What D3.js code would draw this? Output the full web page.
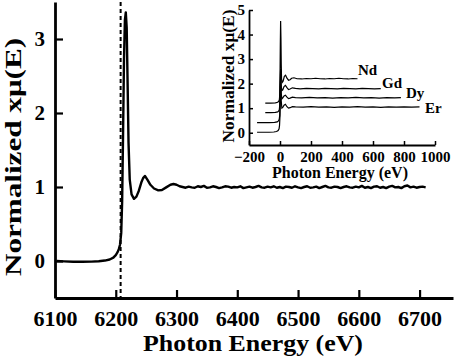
<!DOCTYPE html>
<html>
<head>
<meta charset="utf-8">
<script src="https://cdn.jsdelivr.net/npm/d3@7"></script>
<style>
  body { margin: 0; background: #fff; }
  svg { display: block; font-family: "Liberation Serif", "Times New Roman", serif; font-weight: bold; }
  .axis path, .axis line { stroke: #000; }
  .axis text { fill: #000; font-family: "Liberation Serif", serif; font-weight: bold; }
</style>
</head>
<body>
<div id="chart"></div>
<script>
// main spectrum (Nd L3 edge)
var mainEnergy = [6103, 6115, 6130, 6145, 6160, 6172, 6182, 6190, 6196, 6200, 6203, 6205, 6207, 6209, 6210.5, 6212, 6213.5, 6215, 6216.5, 6218, 6219.5, 6221, 6223, 6226, 6230, 6234, 6238, 6242, 6245, 6248, 6252, 6257, 6263, 6270, 6276, 6283, 6290, 6295, 6300, 6305,
  6310, 6315, 6320, 6325, 6330, 6335, 6340, 6345, 6350, 6355, 6360, 6365, 6370, 6375, 6380, 6385, 6390, 6395, 6400, 6405,
  6410, 6415, 6420, 6425, 6430, 6435, 6440, 6445, 6450, 6455, 6460, 6465, 6470, 6475, 6480, 6485, 6490, 6495, 6500, 6505,
  6510, 6515, 6520, 6525, 6530, 6535, 6540, 6545, 6550, 6555, 6560, 6565, 6570, 6575, 6580, 6585, 6590, 6595, 6600, 6605,
  6610, 6615, 6620, 6625, 6630, 6635, 6640, 6645, 6650, 6655, 6660, 6665, 6670, 6675, 6680, 6685, 6690, 6695, 6700, 6705, 6710];
var mainMu = [0.0, -0.005, -0.01, -0.01, -0.008, -0.004, 0.006, 0.02, 0.045, 0.08, 0.12, 0.16, 0.22, 0.38, 0.8, 1.7, 2.7, 3.25, 3.36, 3.15, 2.4, 1.6, 1.1, 0.9, 0.84, 0.87, 0.95, 1.06, 1.12, 1.15, 1.1, 1.03, 0.98, 0.955, 0.96, 0.995, 1.03, 1.04, 1.03, 1.01,
  1.0, 0.99, 1.005, 0.995, 0.99, 1.01, 1.0, 1.015, 0.99, 0.995, 1.01, 1.0, 0.985, 0.995, 1.01, 1.005, 0.99, 1.0, 0.995, 1.01,
  0.985, 0.995, 1.005, 0.99, 1.0, 1.015, 0.995, 0.99, 1.005, 0.995, 1.01, 0.99, 1.0, 0.985, 1.005, 1.0, 0.99, 1.01, 0.995, 0.985,
  1.0, 1.01, 0.99, 0.995, 1.005, 0.985, 1.0, 1.015, 0.995, 0.99, 1.005, 1.0, 0.985, 1.0, 1.01, 0.995, 0.99, 1.005, 0.995, 1.015,
  0.99, 1.0, 0.985, 1.005, 1.01, 0.99, 1.0, 0.985, 1.005, 1.015, 0.995, 1.0, 0.985, 1.01, 1.02, 0.995, 1.005, 0.99, 1.0, 1.005, 0.995];
var edgeEnergy = 6208;
var mainXTicks = [6100, 6200, 6300, 6400, 6500, 6600, 6700];
var mainYTicks = [0, 1, 2, 3];

// inset: spectra of the four elements, shifted by 0.4 each
var insetNames = ["Nd", "Gd", "Dy", "Er"];
var ndE = [-95, -60, -30, -15, -8, -4, -2, 0, 2, 4, 6, 8, 10, 14, 20, 28, 36, 45, 55, 65, 75, 90, 110, 140, 170, 200, 230, 260, 290, 320, 350, 380, 410, 440, 470, 500];
var ndMu = [1.21, 1.21, 1.22, 1.24, 1.28, 1.35, 1.5, 2.2, 3.6, 4.55, 3.9, 2.8, 2.2, 2.05, 2.1, 2.3, 2.34, 2.22, 2.14, 2.16, 2.22, 2.24, 2.2, 2.19, 2.21, 2.2, 2.22, 2.2, 2.19, 2.21, 2.2, 2.22, 2.2, 2.19, 2.21, 2.2];
var gdE = [-95, -60, -30, -15, -8, -4, -2, 0, 2, 4, 6, 8, 12, 18, 26, 35, 45, 55, 65, 80, 100, 130, 170, 210, 250, 290, 330, 370, 410, 450, 490, 530, 570, 610, 650];
var gdMu = [0.82, 0.82, 0.83, 0.85, 0.89, 0.96, 1.1, 1.6, 2.3, 2.6, 2.3, 1.9, 1.72, 1.75, 1.88, 1.93, 1.84, 1.76, 1.78, 1.83, 1.81, 1.79, 1.81, 1.8, 1.79, 1.81, 1.8, 1.79, 1.81, 1.8, 1.79, 1.81, 1.8, 1.79, 1.8];
var dyE = [-148, -110, -70, -35, -18, -10, -5, -2, 0, 2, 4, 6, 8, 12, 18, 26, 35, 45, 55, 65, 80, 100, 140, 190, 240, 290, 340, 390, 440, 490, 540, 590, 640, 690, 740, 780];
var dyMu = [0.41, 0.41, 0.41, 0.42, 0.44, 0.48, 0.55, 0.7, 1.1, 1.9, 2.3, 2.0, 1.6, 1.38, 1.42, 1.5, 1.53, 1.45, 1.39, 1.41, 1.45, 1.43, 1.42, 1.44, 1.42, 1.43, 1.41, 1.43, 1.42, 1.44, 1.42, 1.43, 1.41, 1.43, 1.42, 1.43];
var erE = [-148, -110, -70, -40, -22, -12, -6, -3, 0, 2, 4, 6, 8, 12, 18, 26, 35, 45, 55, 65, 80, 100, 150, 200, 250, 300, 350, 400, 450, 500, 550, 600, 650, 700, 750, 800, 850, 900];
var erMu = [0.02, 0.02, 0.02, 0.03, 0.05, 0.09, 0.16, 0.3, 0.7, 1.5, 1.95, 1.7, 1.3, 1.0, 1.03, 1.12, 1.16, 1.06, 1.0, 1.02, 1.06, 1.05, 1.04, 1.06, 1.04, 1.05, 1.03, 1.05, 1.04, 1.06, 1.04, 1.05, 1.03, 1.05, 1.04, 1.05, 1.04, 1.05];
var insetXTicks = [-200, 0, 200, 400, 600, 800, 1000];
var insetYTicks = [0, 1, 2, 3, 4, 5];

var width = 454, height = 361;
var svg = d3.select("#chart").append("svg")
    .attr("width", width)
    .attr("height", height);

// ---------- main chart ----------
var x = d3.scaleLinear().domain([6100, 6755]).range([55, 453]);
var y = d3.scaleLinear().domain([-0.5, 3.5]).range([298, 2]);

var xAxis = svg.append("g")
    .attr("class", "axis")
    .attr("transform", "translate(0," + y(-0.5) + ")")
    .call(d3.axisBottom(x).tickValues(mainXTicks).tickFormat(d3.format("d")).tickSizeInner(-8).tickSizeOuter(0));
xAxis.select(".domain").attr("stroke-width", 2.8);
xAxis.selectAll(".tick line").attr("stroke-width", 2.2);
xAxis.selectAll(".tick text")
    .attr("y", 28).attr("dy", 0)
    .attr("font-size", 20)
    .attr("textLength", 44)
    .attr("lengthAdjust", "spacingAndGlyphs");

var yAxis = svg.append("g")
    .attr("class", "axis")
    .attr("transform", "translate(" + x(6100) + ",0)")
    .call(d3.axisLeft(y).tickValues(mainYTicks).tickFormat(d3.format("d")).tickSizeInner(-8).tickSizeOuter(0));
yAxis.select(".domain").attr("stroke-width", 2.8);
yAxis.selectAll(".tick line").attr("stroke-width", 2.2);
yAxis.selectAll(".tick text")
    .attr("x", -10)
    .attr("font-size", 21);

svg.append("line")
    .attr("x1", x(edgeEnergy)).attr("x2", x(edgeEnergy))
    .attr("y1", y(3.5)).attr("y2", y(-0.5))
    .attr("stroke", "#000")
    .attr("stroke-width", 2)
    .attr("stroke-dasharray", "4,3");

var mainData = mainEnergy.map(function(e, i) { return [e, mainMu[i]]; });
svg.append("path")
    .datum(mainData)
    .attr("fill", "none")
    .attr("stroke", "#000")
    .attr("stroke-width", 2.4)
    .attr("stroke-linejoin", "round")
    .attr("d", d3.line().x(d => x(d[0])).y(d => y(d[1])));

svg.append("text")
    .attr("x", 253).attr("y", 351)
    .attr("text-anchor", "middle")
    .attr("font-size", 24)
    .attr("textLength", 220)
    .attr("lengthAdjust", "spacingAndGlyphs")
    .text("Photon Energy (eV)");

svg.append("text")
    .attr("transform", "translate(21,157) rotate(-90)")
    .attr("text-anchor", "middle")
    .attr("font-size", 24)
    .attr("textLength", 238)
    .attr("lengthAdjust", "spacingAndGlyphs")
    .text("Normalized xμ(E)");

// ---------- inset ----------
var xi = d3.scaleLinear().domain([-200, 1000]).range([249, 435]);
var yi = d3.scaleLinear().domain([-0.5, 5]).range([145, 10]);

var xiAxis = svg.append("g")
    .attr("class", "axis")
    .attr("transform", "translate(0," + yi(-0.5) + ")")
    .call(d3.axisBottom(xi).tickValues(insetXTicks).tickFormat(d3.format("d")).tickSizeInner(-4).tickSizeOuter(0));
xiAxis.select(".domain").attr("stroke-width", 1.8);
xiAxis.selectAll(".tick line").attr("stroke-width", 1.5);
xiAxis.selectAll(".tick text")
    .attr("y", 17).attr("dy", 0)
    .attr("font-size", 15);

var yiAxis = svg.append("g")
    .attr("class", "axis")
    .attr("transform", "translate(" + xi(-200) + ",0)")
    .call(d3.axisLeft(yi).tickValues(insetYTicks).tickFormat(d3.format("d")).tickSizeInner(-4).tickSizeOuter(0));
yiAxis.select(".domain").attr("stroke-width", 1.8);
yiAxis.selectAll(".tick line").attr("stroke-width", 1.5);
yiAxis.selectAll(".tick text")
    .attr("x", -4)
    .attr("font-size", 15);

var insetSeries = [[ndE, ndMu], [gdE, gdMu], [dyE, dyMu], [erE, erMu]];
var insetLine = d3.line().x(d => xi(d[0])).y(d => yi(d[1]));
svg.append("g").selectAll("path")
    .data(insetSeries)
    .join("path")
    .attr("fill", "none")
    .attr("stroke", "#000")
    .attr("stroke-width", 1.2)
    .attr("d", s => insetLine(s[0].map(function(e, i) { return [e, s[1][i]]; })));

// element labels next to the end of each curve
var labelPos = [[358, 75], [382, 88], [406, 98], [425, 113]];
svg.append("g").selectAll("text")
    .data(insetNames)
    .join("text")
    .attr("x", (d, i) => labelPos[i][0])
    .attr("y", (d, i) => labelPos[i][1])
    .attr("font-size", 15)
    .text(d => d);

svg.append("text")
    .attr("x", 340).attr("y", 178)
    .attr("text-anchor", "middle")
    .attr("font-size", 16)
    .attr("textLength", 136)
    .attr("lengthAdjust", "spacingAndGlyphs")
    .text("Photon Energy (eV)");

svg.append("text")
    .attr("transform", "translate(234,76) rotate(-90)")
    .attr("text-anchor", "middle")
    .attr("font-size", 16)
    .attr("textLength", 133)
    .attr("lengthAdjust", "spacingAndGlyphs")
    .text("Normalized xμ(E)");
</script>
</body>
</html>
